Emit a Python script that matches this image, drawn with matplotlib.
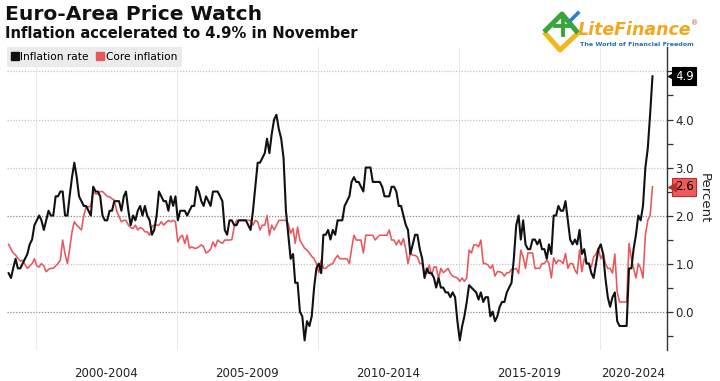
import matplotlib
matplotlib.use("Agg")
import matplotlib.pyplot as plt
from matplotlib.lines import Line2D
import numpy as np
import pandas as pd

# ---------------- data ----------------
start_month = "1999-01"
end_month = "2021-11"

inflation_rate = [
    # 1999
    0.8, 0.7, 0.9, 1.1, 0.9, 0.9, 1.0, 1.1, 1.2, 1.4, 1.5, 1.8,
    # 2000
    1.9, 2.0, 1.9, 1.7, 1.9, 2.1, 2.0, 2.0, 2.4, 2.4, 2.5, 2.5,
    # 2001
    2.0, 2.0, 2.4, 2.8, 3.1, 2.8, 2.4, 2.3, 2.2, 2.2, 2.1, 2.0,
    # 2002
    2.6, 2.5, 2.5, 2.4, 2.0, 1.9, 1.9, 2.1, 2.1, 2.3, 2.3, 2.3,
    # 2003
    2.1, 2.4, 2.5, 2.1, 1.8, 2.0, 1.9, 2.1, 2.2, 2.0, 2.2, 2.0,
    # 2004
    1.9, 1.6, 1.7, 2.0, 2.5, 2.4, 2.3, 2.3, 2.1, 2.4, 2.2, 2.4,
    # 2005
    1.9, 2.1, 2.1, 2.1, 2.0, 2.1, 2.2, 2.2, 2.6, 2.5, 2.3, 2.2,
    # 2006
    2.4, 2.3, 2.2, 2.5, 2.5, 2.5, 2.4, 2.3, 1.7, 1.6, 1.9, 1.9,
    # 2007
    1.8, 1.8, 1.9, 1.9, 1.9, 1.9, 1.8, 1.7, 2.1, 2.6, 3.1, 3.1,
    # 2008
    3.2, 3.3, 3.6, 3.3, 3.7, 4.0, 4.1, 3.8, 3.6, 3.2, 2.1, 1.6,
    # 2009
    1.1, 1.2, 0.6, 0.6, 0.0, -0.1, -0.6, -0.2, -0.3, -0.1, 0.5, 0.9,
    # 2010
    1.0, 0.8, 1.6, 1.6, 1.7, 1.5, 1.7, 1.6, 1.9, 1.9, 1.9, 2.2,
    # 2011
    2.3, 2.4, 2.7, 2.8, 2.7, 2.7, 2.6, 2.5, 3.0, 3.0, 3.0, 2.7,
    # 2012
    2.7, 2.7, 2.7, 2.6, 2.4, 2.4, 2.4, 2.6, 2.6, 2.5, 2.2, 2.2,
    # 2013
    2.0, 1.8, 1.7, 1.2, 1.4, 1.6, 1.6, 1.3, 1.1, 0.7, 0.9, 0.8,
    # 2014
    0.8, 0.7, 0.5, 0.7, 0.5, 0.5, 0.4, 0.4, 0.3, 0.4, 0.3, -0.2,
    # 2015
    -0.6, -0.3, -0.1, 0.2, 0.55, 0.5, 0.45, 0.4, 0.25, 0.4, 0.2, 0.3,
    # 2016
    0.3, -0.1, 0.0, -0.2, -0.1, 0.1, 0.2, 0.2, 0.4, 0.5, 0.6, 1.1,
    # 2017
    1.8, 2.0, 1.5, 1.9, 1.4, 1.3, 1.3, 1.5, 1.5, 1.4, 1.5, 1.3,
    # 2018
    1.3, 1.1, 1.4, 1.2, 2.0, 2.0, 2.2, 2.1, 2.1, 2.3, 1.9, 1.5,
    # 2019
    1.4, 1.5, 1.4, 1.7, 1.2, 1.3, 1.0, 1.0, 0.8, 0.7, 1.0, 1.3,
    # 2020
    1.4, 1.2, 0.7, 0.3, 0.1, 0.3, 0.4, -0.2, -0.3, -0.3, -0.3, -0.3,
    # 2021
    0.9, 0.9, 1.3, 1.6, 2.0, 1.9, 2.2, 3.0, 3.4, 4.1, 4.9,
]

core_inflation = [
    # 1999
    1.4, 1.3, 1.22, 1.18, 1.11, 1.05, 1.07, 0.98, 0.9, 0.95, 1.0, 1.1,
    # 2000
    0.95, 0.93, 1.0, 0.95, 0.83, 0.88, 0.9, 0.9, 0.95, 1.0, 1.07, 1.49,
    # 2001
    1.2, 1.0, 1.3, 1.66, 1.87, 1.8, 1.75, 1.7, 2.0, 2.18, 2.18, 2.2,
    # 2002
    2.5, 2.45, 2.45, 2.5, 2.5, 2.45, 2.4, 2.39, 2.35, 2.32, 2.1, 1.98,
    # 2003
    1.87, 1.9, 1.9, 1.8, 1.75, 1.73, 1.8, 1.7, 1.75, 1.73, 1.66, 1.66,
    # 2004
    1.59, 1.77, 1.8, 1.8, 1.8, 1.87, 1.8, 1.85, 1.9, 1.87, 1.9, 1.87,
    # 2005
    1.45, 1.55, 1.59, 1.42, 1.59, 1.32, 1.35, 1.32, 1.32, 1.35, 1.39, 1.35,
    # 2006
    1.22, 1.25, 1.3, 1.45, 1.35, 1.49, 1.45, 1.42, 1.49, 1.49, 1.49, 1.5,
    # 2007
    1.76, 1.9, 1.9, 1.9, 1.9, 1.9, 1.9, 1.9, 1.8, 1.9, 1.87, 1.7,
    # 2008
    1.8, 1.8, 2.0, 1.59, 1.8, 1.7, 1.8, 1.9, 1.9, 1.9, 1.9, 1.83,
    # 2009
    1.63, 1.73, 1.42, 1.76, 1.49, 1.4, 1.32, 1.28, 1.22, 1.15, 1.1, 1.0,
    # 2010
    0.81, 1.07, 0.9, 0.9, 0.95, 0.98, 1.0, 1.1, 1.17, 1.1, 1.1, 1.1,
    # 2011
    1.1, 1.0, 1.3, 1.59, 1.49, 1.49, 1.49, 1.22, 1.59, 1.59, 1.59, 1.59,
    # 2012
    1.49, 1.55, 1.59, 1.59, 1.59, 1.59, 1.7, 1.49, 1.49, 1.39, 1.49, 1.39,
    # 2013
    1.52, 1.3, 1.0, 1.22, 1.17, 1.17, 1.14, 1.0, 1.0, 0.81, 0.79, 0.97,
    # 2014
    0.76, 0.93, 0.93, 0.69, 0.9, 0.81, 0.85, 0.9, 0.8, 0.74, 0.72, 0.7,
    # 2015
    0.63, 0.7, 0.63, 0.7, 1.28, 1.22, 1.39, 1.39, 1.35, 1.49, 1.0, 1.0,
    # 2016
    0.97, 0.9, 0.97, 0.74, 0.83, 0.83, 0.81, 0.74, 0.81, 0.81, 0.88, 0.88,
    # 2017
    0.9, 0.79, 1.28, 1.14, 0.9, 1.22, 1.22, 1.22, 0.9, 0.9, 0.9, 1.0,
    # 2018
    1.0, 1.07, 1.0, 0.7, 1.12, 1.0, 1.07, 1.05, 1.0, 1.21, 0.9, 1.0,
    # 2019
    1.0, 0.86, 0.79, 1.28, 0.83, 1.1, 1.0, 1.0, 0.93, 1.14, 1.2, 1.32,
    # 2020
    1.1, 1.2, 1.0, 0.9, 0.9, 0.8, 1.2, 0.4, 0.2, 0.2, 0.2, 0.2,
    # 2021
    1.42, 1.1, 0.9, 0.7, 1.0, 0.9, 0.7, 1.6, 1.9, 2.0, 2.6,
]

period_labels = ["2000-2004", "2005-2009", "2010-2014", "2015-2019", "2020-2024"]
period_starts = ["2000-01-01", "2005-01-01", "2010-01-01", "2015-01-01", "2020-01-01"]
y_ticks = [0.0, 1.0, 2.0, 3.0, 4.0, 5.0]

title = "Euro-Area Price Watch"
subtitle = "Inflation accelerated to 4.9% in November"
series_names = ["Inflation rate", "Core inflation"]

BLACK = "#111111"
RED = "#e8575c"

# ---------------- figure ----------------
dates = pd.date_range(start_month, end_month, freq="MS") + pd.Timedelta(days=14)

fig = plt.figure(figsize=(7.2, 3.81), dpi=100)
fig.patch.set_facecolor("white")
ax = fig.add_axes([7 / 720, 31 / 381, 660 / 720, 303 / 381])

x_left = pd.Timestamp("1998-12-25")
x_right = pd.Timestamp("2022-05-22")
ax.set_xlim(x_left, x_right)
ax.set_ylim(-0.80, 5.51)

# grid
for yv in y_ticks:
    dark = yv in (0.0, 2.0)
    ax.axhline(yv, color="#8a8a8a" if dark else "#c4c4c4", lw=0.9,
               ls=(0, (1, 1.3)), zorder=1)
for ps in period_starts:
    ax.axvline(pd.Timestamp(ps), color="#dcdcdc", lw=0.8, ls=(0, (1, 0.8)), zorder=1)

ax.plot(dates, core_inflation, color=RED, lw=1.15, zorder=3)
ax.plot(dates, inflation_rate, color=BLACK, lw=1.5, zorder=4)

# spines
for s in ["left", "top", "bottom"]:
    ax.spines[s].set_visible(False)
ax.spines["right"].set_color("#333333")
ax.spines["right"].set_linewidth(1.0)

# y axis on the right
ax.yaxis.tick_right()
ax.set_yticks(y_ticks)
ax.set_yticklabels([f"{v:.1f}" for v in y_ticks])
ax.set_yticks(np.arange(-0.5, 5.5, 1.0), minor=True)
ax.tick_params(axis="y", which="both", direction="out", length=4, width=0.9,
               color="#333333", labelsize=8.5, pad=2, labelcolor="#222222")
ax.yaxis.set_label_position("right")
ax.set_ylabel("Percent", rotation=270, fontsize=9.5, labelpad=12, color="#222222")

# x axis: period labels
ax.set_xticks([])
label_pos = []
for i, ps in enumerate(period_starts):
    a = pd.Timestamp(ps)
    b = pd.Timestamp(period_starts[i + 1]) if i + 1 < len(period_starts) else x_right
    label_pos.append(a + (b - a) / 2)
ax.set_xticks(label_pos, minor=True)
ax.set_xticklabels(period_labels, minor=True)
ax.tick_params(axis="x", which="both", length=0, labelsize=8.5, pad=12, labelcolor="#222222")

# legend
handles = [Line2D([], [], marker="s", ls="none", color=BLACK, markersize=5.2),
           Line2D([], [], marker="s", ls="none", color=RED, markersize=5.2)]
leg = ax.legend(handles, series_names, loc="upper left", ncol=2, fontsize=7.6,
                frameon=True, fancybox=False, borderaxespad=0.0, handlelength=0.6,
                handletextpad=0.2, columnspacing=0.8, borderpad=0.45)
leg.get_frame().set_facecolor("#ebebeb")
leg.get_frame().set_edgecolor("none")
leg.get_frame().set_alpha(1)

# value tags
trans = ax.get_yaxis_transform()
for val, fc, ec, tc in [(inflation_rate[-1], "black", "black", "white"),
                        (core_inflation[-1], "#f05a5a", "#b83030", "black")]:
    ax.text(1.012, val, f"{val:.1f}", transform=trans, fontsize=8.5, color=tc,
            va="center", ha="left", zorder=10, clip_on=False,
            bbox=dict(boxstyle="square,pad=0.22", fc=fc, ec=ec, lw=0.8))
    ax.plot([1.008], [val], marker="<", markersize=6, color=ec, transform=trans,
            clip_on=False, zorder=11)

# titles
fig.text(5 / 720, 1 - 14 / 381, title, fontsize=14.6, fontweight="bold",
         va="center", ha="left", color="#111111")
fig.text(5 / 720, 1 - 33 / 381, subtitle, fontsize=10.6, fontweight="bold",
         va="center", ha="left", color="#111111")

# logo (LiteFinance)
def fx(px):
    return px / 720
def fy(py):
    return 1 - py / 381
fig.text(fx(578), fy(30), "LiteFinance", fontsize=12.5, fontstyle="italic",
         fontweight="bold", color="#f2a81d", va="center", ha="left")
fig.text(fx(580), fy(44), "The World of Financial Freedom", fontsize=4.6,
         fontweight="bold", color="#2a6db8", va="center", ha="left")
fig.text(fx(691), fy(23), "®", fontsize=5, color="#d83a3a", va="center", ha="left")
fig.add_artist(Line2D([fx(544), fx(560), fx(578)], [fy(32), fy(50), fy(33)],
                      color="#f0b81c", lw=3.6, solid_capstyle="butt"))
fig.add_artist(Line2D([fx(544), fx(562), fx(578)], [fy(32), fy(14), fy(33)],
                      color="#3aa53a", lw=3.6, solid_capstyle="butt"))
fig.add_artist(Line2D([fx(555), fx(571)], [fy(26), fy(26)], color="#3aa53a", lw=2.8))
fig.add_artist(Line2D([fx(563), fx(563)], [fy(19), fy(35)], color="#3aa53a", lw=2.8))
fig.add_artist(Line2D([fx(571), fx(578)], [fy(20), fy(13)], color="#2a7fd0", lw=2.6))

fig.savefig("out.png", dpi=100, facecolor="white")
